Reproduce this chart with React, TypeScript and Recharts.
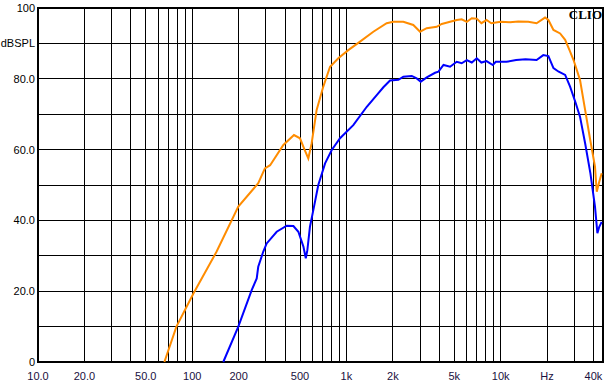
import React from "react";
import {
  LineChart,
  Line,
  XAxis,
  YAxis,
  CartesianGrid,
  ReferenceArea,
} from "recharts";

// frequency response, orange trace (Hz, dBSPL)
const orangeFreq = [
  66, 79, 102, 144, 199, 268, 296, 320, 390, 457, 500, 535, 566, 595, 641, 708,
  783, 886, 1028, 1225, 1494, 1823, 2015, 2338, 2714, 3002, 3316, 3850, 4150,
  4700, 5190, 5590, 6030, 6500, 7000, 7500, 8100, 8700, 9300, 10000, 11500,
  13000, 15100, 17100, 19400, 20400, 22000, 24300, 26200, 28000, 29700, 32700,
  35300, 38000, 40900, 42000, 43600, 45200,
];
const orangeDb = [
  0, 10, 19.4, 31.2, 43.9, 50.5, 54.7, 55.6, 61.3, 64.1, 63.2, 60, 57.5, 61.8,
  71.2, 77.8, 83.4, 85.8, 88.1, 90.5, 93.3, 95.7, 96.1, 96.1, 95.2, 93.3, 94.3,
  94.7, 95.5, 96.1, 96.6, 96.8, 96.1, 97.1, 97, 95.7, 96.6, 95.7, 95.9, 96.1,
  96.0, 96.2, 96.1, 95.7, 97.3, 96.6, 93.8, 92.8, 91, 88, 85.3, 79.7, 71.2, 63,
  55.2, 48.1, 50.9, 53.3,
];

// blue trace
const blueFreq = [
  159, 199, 243, 262, 268, 289, 304, 353, 410, 453, 488, 526, 545, 558, 580,
  610, 657, 727, 803, 909, 1108, 1355, 1572, 1736, 1917, 2173, 2340, 2651, 2856,
  3033, 3318, 3757, 3950, 4260, 4700, 5190, 5590, 6030, 6500, 7000, 7500, 8100,
  8900, 9300, 10900, 12600, 14500, 17100, 18900, 20400, 22000, 23800, 26200,
  28200, 30700, 32700, 35300, 38200, 40900, 42400, 43600, 45200,
];
const blueDb = [
  0, 10, 20.3, 23.6, 26.9, 31.2, 33.5, 36.8, 38.5, 38.4, 36.8, 32.6, 29.3, 31.6,
  38.2, 42.9, 50, 56.1, 59.9, 63.2, 66.9, 72.1, 75.4, 77.6, 79.5, 79.7, 80.6,
  80.8, 80.1, 79.2, 80.4, 81.7, 82, 83.9, 83.4, 84.8, 84.4, 85.3, 84.6, 85.8,
  84.6, 85, 83.9, 84.8, 84.8, 85.3, 85.5, 85.3, 86.7, 86.4, 83, 82, 81.1, 77.8,
  73.1, 69.3, 61.8, 53.3, 43.9, 36.4, 38.2, 39.6,
];

const xGridFreqs = [
  10, 20, 30, 40, 50, 60, 70, 80, 90, 100, 200, 300, 400, 500, 600, 700, 800,
  900, 1000, 2000, 3000, 4000, 5000, 6000, 7000, 8000, 9000, 10000, 20000,
  30000, 40000,
];
const xTickLabels: Record<number, string> = {
  10: "10.0",
  20: "20.0",
  50: "50.0",
  100: "100",
  200: "200",
  500: "500",
  1000: "1k",
  2000: "2k",
  5000: "5k",
  10000: "10k",
  20000: "Hz",
  40000: "40k",
};

const yGridTicks = [0, 10, 20, 30, 40, 50, 60, 70, 80, 90, 100];
const yTickLabels: Record<number, string> = {
  0: "0",
  20: "20.0",
  40: "40.0",
  60: "60.0",
  80: "80.0",
  90: "dBSPL",
  100: "100",
};
const yMinorTicks = [
  2, 4, 6, 8, 12, 14, 16, 18, 22, 24, 26, 28, 32, 34, 36, 38, 42, 44, 46, 48,
  52, 54, 56, 58, 62, 64, 66, 68, 72, 74, 76, 78, 82, 84, 86, 88, 92, 94, 96,
  98,
];

const X_MIN = 10;
const X_MAX = 46100;

const orangeData = orangeFreq.map((f, i) => ({ f, db: orangeDb[i] }));
const blueData = blueFreq.map((f, i) => ({ f, db: blueDb[i] }));

const FONT = "'Liberation Sans', Arial, sans-serif";

const XTick = ({ x, y, payload }: any) => {
  const label = xTickLabels[payload.value];
  if (!label) return null;
  return (
    <text x={x} y={y + 18} textAnchor="middle" fontSize={11} fontFamily={FONT} fill="#1a1040">
      {label}
    </text>
  );
};

const YTick = ({ x, y, payload }: any) => {
  const label = yTickLabels[payload.value];
  if (!label) return null;
  return (
    <text x={x - 3} y={y + 4} textAnchor="end" fontSize={11} fontFamily={FONT} fill="#000">
      {label}
    </text>
  );
};

export default function App() {
  return (
    <div style={{ position: "absolute", left: 0, top: 0, width: 607, height: 384, background: "#fff" }}>
      <LineChart
        width={607}
        height={384}
        margin={{ top: 8, right: 4, bottom: 0, left: 0 }}
      >
        <CartesianGrid stroke="#000" strokeWidth={1} shapeRendering="crispEdges" />
        <XAxis
          dataKey="f"
          type="number"
          scale="log"
          domain={[X_MIN, X_MAX]}
          allowDataOverflow
          ticks={xGridFreqs}
          interval={0}
          tick={<XTick />}
          tickLine={false}
          axisLine={false}
          tickSize={0}
          tickMargin={0}
          height={22}
        />
        <YAxis
          type="number"
          domain={[0, 100]}
          ticks={yGridTicks}
          interval={0}
          tick={<YTick />}
          tickLine={false}
          axisLine={false}
          tickSize={0}
          tickMargin={0}
          width={38}
        />
        <YAxis
          yAxisId="minorL"
          orientation="left"
          mirror
          type="number"
          domain={[0, 100]}
          ticks={yMinorTicks}
          interval={0}
          tick={false}
          axisLine={false}
          tickLine={{ stroke: "#000", strokeWidth: 1, shapeRendering: "crispEdges" }}
          tickSize={4}
        />
        <YAxis
          yAxisId="minorR"
          orientation="right"
          mirror
          type="number"
          domain={[0, 100]}
          ticks={yMinorTicks}
          interval={0}
          tick={false}
          axisLine={false}
          tickLine={{ stroke: "#000", strokeWidth: 1, shapeRendering: "crispEdges" }}
          tickSize={4}
        />
        <ReferenceArea
          x1={X_MIN}
          x2={X_MAX}
          y1={0}
          y2={100}
          fill="none"
          stroke="#000"
          strokeWidth={2.5}
          shapeRendering="crispEdges"
          ifOverflow="visible"
        />
        <Line
          data={orangeData}
          dataKey="db"
          type="linear"
          stroke="#ff8c00"
          strokeWidth={2}
          dot={false}
          isAnimationActive={false}
        />
        <Line
          data={blueData}
          dataKey="db"
          type="linear"
          stroke="#0000ff"
          strokeWidth={2}
          dot={false}
          isAnimationActive={false}
        />
        <text
          x={602}
          y={19}
          textAnchor="end"
          fontSize={13}
          fontWeight="bold"
          fontFamily="'Liberation Serif', 'Times New Roman', serif"
          fill="#000"
        >
          CLIO
        </text>
      </LineChart>
    </div>
  );
}
